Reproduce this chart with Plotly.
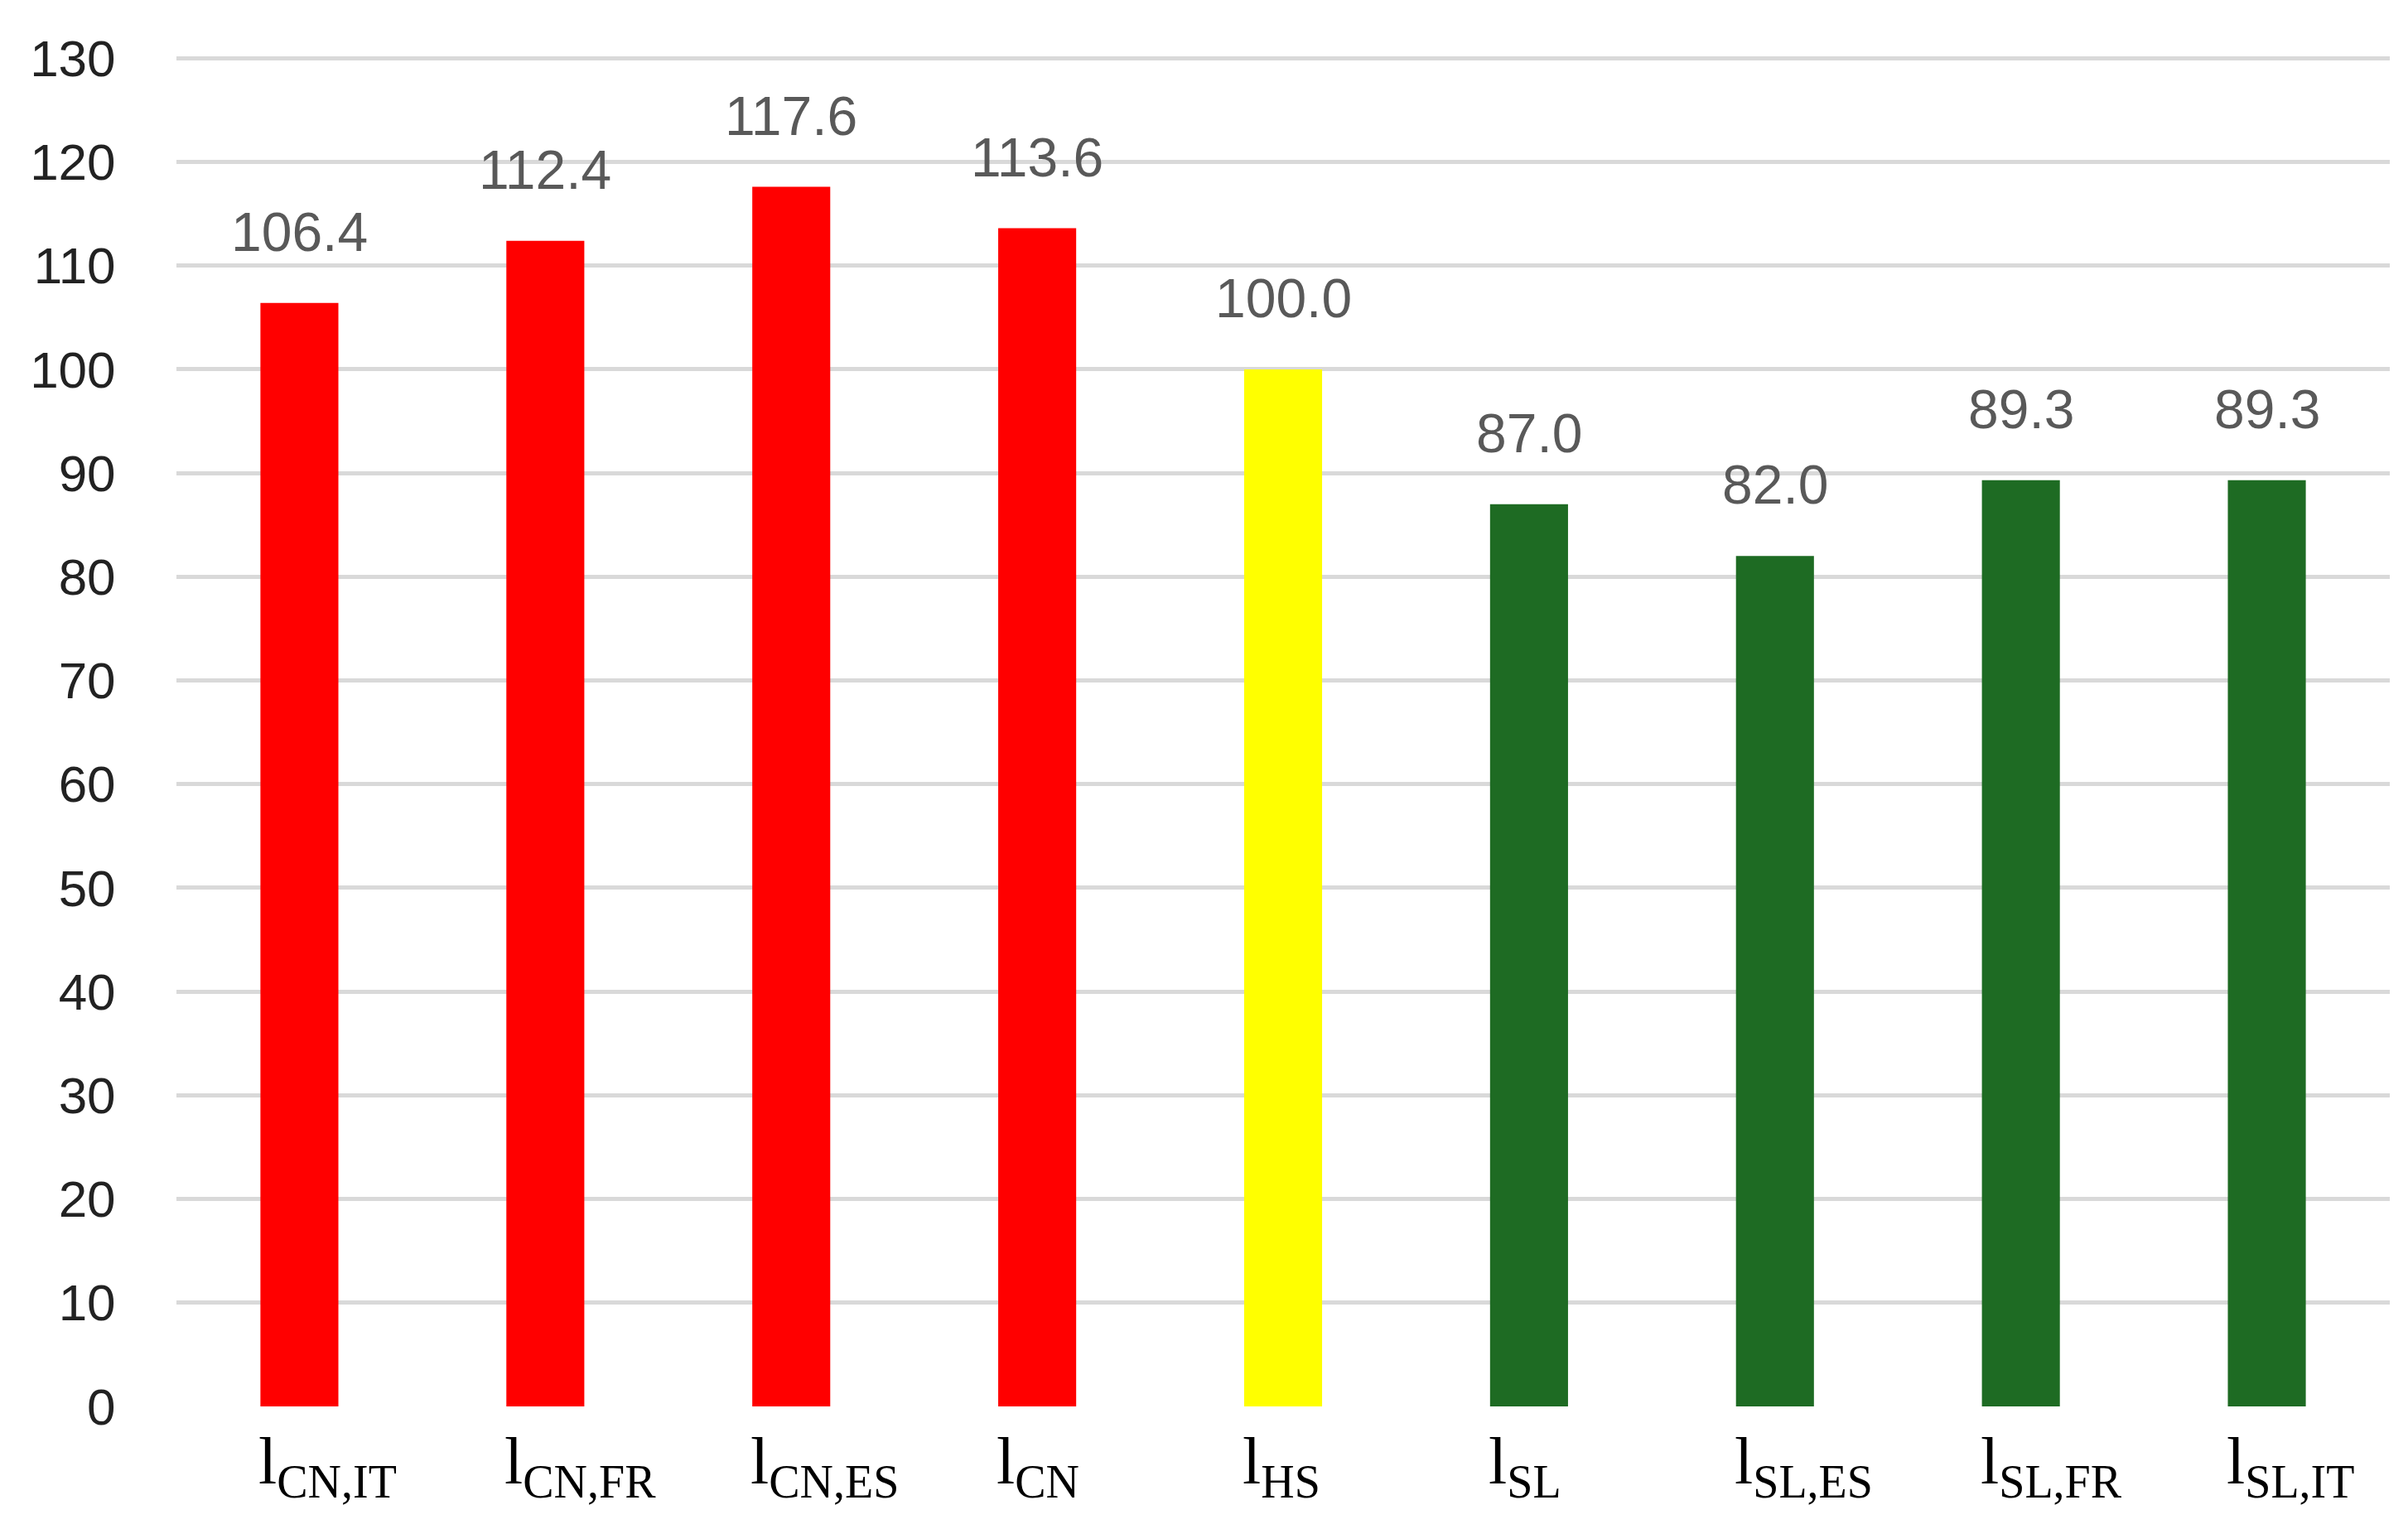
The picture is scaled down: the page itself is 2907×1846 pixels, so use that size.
import plotly.graph_objects as go

categories = ["CN,IT", "CN,FR", "CN,ES", "CN", "HS", "SL", "SL,ES", "SL,FR", "SL,IT"]
values = [106.4, 112.4, 117.6, 113.6, 100.0, 87.0, 82.0, 89.3, 89.3]
value_labels = ["106.4", "112.4", "117.6", "113.6", "100.0", "87.0", "82.0", "89.3", "89.3"]
bar_colors = ["#FF0000", "#FF0000", "#FF0000", "#FF0000", "#FFFF00",
              "#1E6B23", "#1E6B23", "#1E6B23", "#1E6B23"]
y_ticks = [0, 10, 20, 30, 40, 50, 60, 70, 80, 90, 100, 110, 120, 130]

W, H = 2907, 1846
ML, MR, MT, MB = 213, 22, 64, 148
plot_w = W - ML - MR
cat_px = plot_w / len(categories)
bar_frac = 0.317
bar_half_px = cat_px * bar_frac / 2

fig = go.Figure()
fig.add_trace(go.Bar(
    x=categories, y=values,
    marker=dict(color=bar_colors, line=dict(width=0)),
    width=bar_frac,
    hoverinfo="skip",
))

annotations = []
for c, v, t in zip(categories, values, value_labels):
    annotations.append(dict(
        x=c, y=v, xref="x", yref="y", text=t, showarrow=False,
        xanchor="center", yanchor="bottom", yshift=47,
        font=dict(family="Liberation Sans, Arial, sans-serif", size=66, color="#595959"),
    ))
    annotations.append(dict(
        x=c, y=0, xref="x", yref="paper",
        text="l<sub>" + c + "</sub>", showarrow=False,
        xanchor="left", yanchor="top", xshift=-bar_half_px - 4, yshift=-20,
        font=dict(family="Liberation Serif, Times New Roman, serif", size=80, color="#000000"),
    ))

fig.update_layout(
    width=W, height=H,
    margin=dict(l=ML, r=MR, t=MT, b=MB, pad=0),
    paper_bgcolor="white", plot_bgcolor="white",
    showlegend=False,
    annotations=annotations,
    xaxis=dict(
        type="category", showticklabels=False, showgrid=False,
        zeroline=False, showline=False, ticks="",
        range=[-0.5, len(categories) - 0.5],
    ),
    yaxis=dict(
        range=[0, 130.5], tickvals=y_ticks,
        showgrid=True, gridcolor="#D9D9D9", gridwidth=5,
        zeroline=False, showline=False,
        ticks="outside", ticklen=60, tickcolor="rgba(0,0,0,0)",
        tickfont=dict(family="Liberation Sans, Arial, sans-serif", size=62, color="#222222"),
    ),
)

fig.write_html(
    "out.html",
    config={"displayModeBar": False, "staticPlot": True},
    post_script="document.body.style.margin='0';document.body.style.overflow='hidden';",
)
